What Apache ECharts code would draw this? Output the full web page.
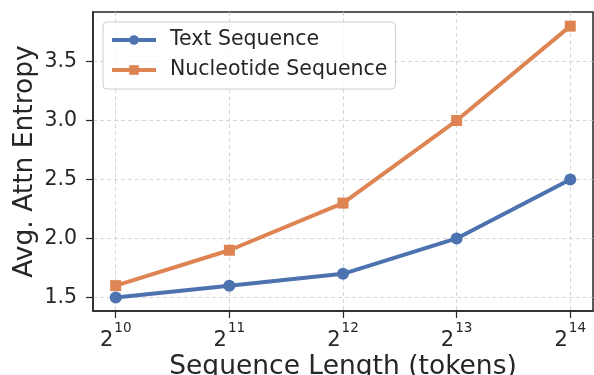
<!DOCTYPE html>
<html><head><meta charset="utf-8">
<script src="https://cdn.jsdelivr.net/npm/echarts@6/dist/echarts.min.js"></script>
<style>html,body{margin:0;padding:0;background:#fff}#c{width:594px;height:375px}</style>
</head><body><div id="c"></div>
<script>
const exponents = [10, 11, 12, 13, 14];
const textSeq = [1.5, 1.6, 1.7, 2.0, 2.5];
const nucSeq = [1.6, 1.9, 2.3, 3.0, 3.8];
const yTicks = [1.5, 2.0, 2.5, 3.0, 3.5];
const seriesNames = ['Text Sequence', 'Nucleotide Sequence'];

const chart = echarts.init(document.getElementById('c'), null, {renderer: 'canvas'});
const font = 'DejaVu Sans';
const dark = '#262626';
chart.setOption({
  animation: false,
  textStyle: {fontFamily: font},
  grid: {left: 93, right: 1, top: 12, bottom: 64, containLabel: false, outerBoundsMode: 'none',
         show: true, borderColor: dark, borderWidth: 1.5, backgroundColor: 'transparent'},
  legend: {
    left: 103, top: 22, orient: 'vertical',
    itemWidth: 44, itemHeight: 12, itemGap: 8,
    padding: [7, 8, 8, 7],
    backgroundColor: 'rgba(255,255,255,0.8)', borderColor: '#cccccc', borderWidth: 1, borderRadius: 4,
    lineStyle: {width: 4},
    textStyle: {fontFamily: font, fontSize: 20.5, lineHeight: 22, color: dark, padding: [0, 0, 0, 9]},
    data: seriesNames
  },
  xAxis: {
    type: 'value', min: 9.8, max: 14.2,
    name: 'Sequence Length (tokens)', nameLocation: 'middle', nameGap: 43, nameMoveOverlap: false,
    nameTextStyle: {fontFamily: font, fontSize: 26.5, color: dark},
    axisLine: {show: true, onZero: false, lineStyle: {color: dark, width: 1.5}},
    axisTick: {show: true, length: 7, lineStyle: {color: dark, width: 1.2}, customValues: exponents},
    axisLabel: {
      customValues: exponents, margin: 10, color: dark,
      formatter: v => '{b|2}{s|' + Math.round(v) + '}',
      rich: {b: {fontSize: 21, fontFamily: font, color: dark, verticalAlign: 'bottom', padding: [9,0,0,0]},
             s: {fontSize: 13.5, fontFamily: font, color: dark, verticalAlign: 'top', padding: [0,0,9,1]}}
    },
    splitLine: {show: true, lineStyle: {color: '#cccccc', type: [4, 3], width: 0.8}}
  },
  yAxis: {
    type: 'value', min: 1.385, max: 3.92,
    name: 'Avg. Attn Entropy', nameLocation: 'middle', nameGap: 54, nameMoveOverlap: false,
    nameTextStyle: {fontFamily: font, fontSize: 26.5, color: dark},
    axisLine: {show: true, lineStyle: {color: dark, width: 1.5}},
    axisTick: {show: true, length: 7, lineStyle: {color: dark, width: 1.2}, customValues: yTicks},
    axisLabel: {customValues: yTicks, margin: 16, fontSize: 20.5, color: dark, fontFamily: font,
                formatter: v => v.toFixed(1)},
    splitLine: {show: true, lineStyle: {color: '#cccccc', type: [4, 3], width: 0.8}}
  },
  series: [
    {name: seriesNames[0], type: 'line', data: exponents.map((e, i) => [e, textSeq[i]]),
     symbol: 'circle', symbolSize: 12, lineStyle: {width: 4, color: '#4c72b0'},
     itemStyle: {color: '#4c72b0'}, z: 3},
    {name: seriesNames[1], type: 'line', data: exponents.map((e, i) => [e, nucSeq[i]]),
     symbol: 'rect', symbolSize: 11, lineStyle: {width: 4, color: '#dd8452'},
     itemStyle: {color: '#dd8452'}, z: 2}
  ]
});
</script></body></html>
